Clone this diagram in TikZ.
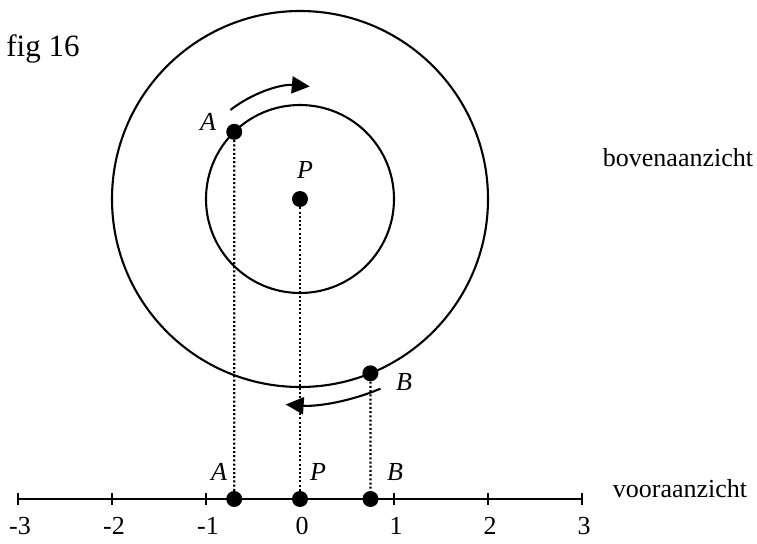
\documentclass[tikz,border=0pt]{standalone}
\usepackage{fontspec}
\setmainfont{Liberation Serif}
\usetikzlibrary{calc,arrows.meta}
\begin{document}
\begin{tikzpicture}[x=0.5pt,y=0.5pt,
  line/.style={line width=1.05pt},
  dotline/.style={line width=1.1pt,dash pattern=on 1pt off 1.1pt},
  dot/.style={circle,fill=black,inner sep=0pt,minimum size=8pt},
  arr/.style={line width=1.05pt,-{Triangle[length=9pt,width=8.5pt]}},
  lbl/.style={font=\fontsize{13}{15}\selectfont,inner sep=0pt},
  ilbl/.style={font=\fontsize{13}{15}\selectfont\itshape,inner sep=0pt},
  tick/.style={line width=1.05pt}]
\useasboundingbox (0,0) rectangle (757,543);
% top view
\coordinate (P) at (300,344);
\coordinate (A) at ($(P)+(134.4:94)$);
\coordinate (B) at ($(P)+(-68:188)$);
% front view axis
\coordinate (Pa) at (300,44);
\coordinate (Aa) at (234.2,44);
\coordinate (Ba) at (370.5,44);
\coordinate (Xl) at (18,44);
\coordinate (Xr) at (582,44);
% dotted projection lines
\draw[dotline] (A) -- (Aa);
\draw[dotline] (P) -- (Pa);
\draw[dotline] (B) -- (Ba);
% circles
\draw[line] (P) circle[radius=188];
\draw[line] (P) circle[radius=94];
% rotation arrows
\draw[arr] ($(P)+(128:113)$) arc[start angle=128,end angle=85,radius=113];
\draw[arr] ($(P)+(-67:206)$) arc[start angle=-67,end angle=-94,radius=206];
% axis
\draw[line] (Xl) -- (Xr);
\foreach \i/\x in {-3/18,-2/112,-1/206,0/300,1/394,2/488,3/582}{
  \draw[tick] (\x,38) -- (\x,50);
  \node[lbl] (n\i) at (\x+2,17) {\i};
}
% dots
\node[dot] (dA) at (A) {};
\node[dot] (dP) at (P) {};
\node[dot] (dB) at (B) {};
\node[dot] (dAa) at (Aa) {};
\node[dot] (dPa) at (Pa) {};
\node[dot] (dBa) at (Ba) {};
% labels
\node[ilbl] (lA) at (208,421) {A};
\node[ilbl] (lP) at (305,373) {P};
\node[ilbl] (lB) at (404,161) {B};
\node[ilbl] (lAa) at (219,71) {A};
\node[ilbl] (lPa) at (318,71) {P};
\node[ilbl] (lBa) at (395,71) {B};
\node[lbl,anchor=west] (fig) at (6,494) {\fontsize{15.5}{17}\selectfont fig 16};
\node[lbl] (boven) at (678,385) {bovenaanzicht};
\node[lbl] (voor) at (680,54) {vooraanzicht};
\end{tikzpicture}
\end{document}
